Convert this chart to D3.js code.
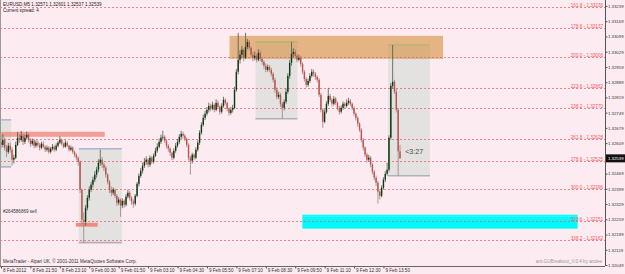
<!DOCTYPE html>
<html><head><meta charset="utf-8">
<script src="https://cdn.jsdelivr.net/npm/d3@7"></script>
<style>
html,body{margin:0;padding:0;background:#fcecf1;}
svg{display:block;font-family:"Liberation Sans",Arial,sans-serif;}
</style></head><body>
<svg id="c" width="625" height="274"></svg>
<script>
// ---------- DATA ----------
const symbol = "EURUSD,M5";
const spreadText = "Current spread: 4";
const open = [1.32615,
1.32601,1.32624,1.32588,1.32569,1.32597,1.32579,1.32533,1.32542,1.32601,1.32634,
1.32624,1.32643,1.32615,1.32634,1.32647,1.32624,1.32606,1.32620,1.32597,1.32611,
1.32601,1.32588,1.32606,1.32592,1.32579,1.32588,1.32569,1.32583,1.32592,1.32579,
1.32597,1.32611,1.32624,1.32606,1.32592,1.32611,1.32597,1.32579,1.32588,1.32569,
1.32556,1.32542,1.32523,1.32395,1.32257,1.32248,1.32312,1.32358,1.32395,1.32418,
1.32441,1.32464,1.32487,1.32519,1.32533,1.32510,1.32496,1.32464,1.32432,1.32395,
1.32381,1.32395,1.32367,1.32335,1.32349,1.32322,1.32344,1.32326,1.32363,1.32381,
1.32358,1.32340,1.32331,1.32367,1.32422,1.32459,1.32482,1.32505,1.32523,1.32533,
1.32510,1.32542,1.32523,1.32551,1.32574,1.32592,1.32615,1.32634,1.32638,1.32620,
1.32597,1.32583,1.32565,1.32542,1.32574,1.32597,1.32615,1.32638,1.32652,1.32643,
1.32629,1.32601,1.32542,1.32528,1.32556,1.32542,1.32579,1.32611,1.32657,1.32693,
1.32725,1.32744,1.32762,1.32780,1.32767,1.32785,1.32762,1.32794,1.32776,1.32753,
1.32780,1.32808,1.32794,1.32767,1.32748,1.32762,1.32771,1.32854,1.32937,1.32992,
1.33015,1.33038,1.33001,1.33051,1.33074,1.33047,1.33015,1.33001,1.33010,1.32992,
1.33024,1.32996,1.32982,1.32964,1.32946,1.32959,1.32946,1.32927,1.32900,1.32854,
1.32822,1.32831,1.32790,1.32771,1.32799,1.32845,1.32918,1.32978,1.33019,1.33028,
1.33010,1.32992,1.33001,1.32973,1.32937,1.32904,1.32877,1.32895,1.32918,1.32937,
1.32927,1.32913,1.32900,1.32831,1.32762,1.32707,1.32753,1.32790,1.32826,1.32808,
1.32790,1.32813,1.32794,1.32771,1.32753,1.32771,1.32790,1.32780,1.32794,1.32803,
1.32790,1.32771,1.32744,1.32725,1.32698,1.32670,1.32624,1.32588,1.32556,1.32533,
1.32542,1.32510,1.32477,1.32450,1.32427,1.32386,1.32367,1.32404,1.32441,1.32468,
1.32487,1.32634,1.32872,1.32891,1.32845,1.32762,1.32571];
const close = [
1.32601,1.32624,1.32588,1.32569,1.32597,1.32579,1.32533,1.32542,1.32601,1.32634,
1.32624,1.32643,1.32615,1.32634,1.32647,1.32624,1.32606,1.32620,1.32597,1.32611,
1.32601,1.32588,1.32606,1.32592,1.32579,1.32588,1.32569,1.32583,1.32592,1.32579,
1.32597,1.32611,1.32624,1.32606,1.32592,1.32611,1.32597,1.32579,1.32588,1.32569,
1.32556,1.32542,1.32523,1.32395,1.32257,1.32248,1.32312,1.32358,1.32395,1.32418,
1.32441,1.32464,1.32487,1.32519,1.32533,1.32510,1.32496,1.32464,1.32432,1.32395,
1.32381,1.32395,1.32367,1.32335,1.32349,1.32322,1.32344,1.32326,1.32363,1.32381,
1.32358,1.32340,1.32331,1.32367,1.32422,1.32459,1.32482,1.32505,1.32523,1.32533,
1.32510,1.32542,1.32523,1.32551,1.32574,1.32592,1.32615,1.32634,1.32638,1.32620,
1.32597,1.32583,1.32565,1.32542,1.32574,1.32597,1.32615,1.32638,1.32652,1.32643,
1.32629,1.32601,1.32542,1.32528,1.32556,1.32542,1.32579,1.32611,1.32657,1.32693,
1.32725,1.32744,1.32762,1.32780,1.32767,1.32785,1.32762,1.32794,1.32776,1.32753,
1.32780,1.32808,1.32794,1.32767,1.32748,1.32762,1.32771,1.32854,1.32937,1.32992,
1.33015,1.33038,1.33001,1.33051,1.33074,1.33047,1.33015,1.33001,1.33010,1.32992,
1.33024,1.32996,1.32982,1.32964,1.32946,1.32959,1.32946,1.32927,1.32900,1.32854,
1.32822,1.32831,1.32790,1.32771,1.32799,1.32845,1.32918,1.32978,1.33019,1.33028,
1.33010,1.32992,1.33001,1.32973,1.32937,1.32904,1.32877,1.32895,1.32918,1.32937,
1.32927,1.32913,1.32900,1.32831,1.32762,1.32707,1.32753,1.32790,1.32826,1.32808,
1.32790,1.32813,1.32794,1.32771,1.32753,1.32771,1.32790,1.32780,1.32794,1.32803,
1.32790,1.32771,1.32744,1.32725,1.32698,1.32670,1.32624,1.32588,1.32556,1.32533,
1.32542,1.32510,1.32477,1.32450,1.32427,1.32386,1.32367,1.32404,1.32441,1.32468,
1.32487,1.32634,1.32872,1.32891,1.32845,1.32762,1.32571,1.32539];
const high = [
1.32640,1.32650,1.32635,1.32600,1.32610,1.32612,1.32590,1.32556,1.32615,1.32660,
1.32650,1.32665,1.32652,1.32648,1.32662,1.32655,1.32632,1.32630,1.32628,1.32622,
1.32620,1.32610,1.32615,1.32618,1.32600,1.32598,1.32595,1.32592,1.32605,1.32600,
1.32608,1.32620,1.32640,1.32630,1.32612,1.32622,1.32618,1.32602,1.32598,1.32594,
1.32575,1.32562,1.32548,1.32530,1.32400,1.32290,1.32325,1.32370,1.32410,1.32432,
1.32455,1.32480,1.32500,1.32535,1.32579,1.32545,1.32520,1.32505,1.32470,1.32440,
1.32410,1.32405,1.32400,1.32375,1.32360,1.32355,1.32355,1.32350,1.32375,1.32395,
1.32390,1.32365,1.32350,1.32375,1.32430,1.32470,1.32495,1.32520,1.32540,1.32548,
1.32540,1.32552,1.32550,1.32562,1.32588,1.32608,1.32630,1.32648,1.32666,1.32645,
1.32628,1.32605,1.32590,1.32570,1.32585,1.32610,1.32628,1.32650,1.32665,1.32662,
1.32650,1.32635,1.32608,1.32550,1.32565,1.32562,1.32590,1.32622,1.32668,1.32705,
1.32740,1.32758,1.32775,1.32795,1.32790,1.32800,1.32792,1.32810,1.32805,1.32782,
1.32792,1.32822,1.32815,1.32800,1.32772,1.32775,1.32785,1.32868,1.32950,1.33116,
1.33035,1.33055,1.33047,1.33116,1.33088,1.33083,1.33055,1.33028,1.33030,1.33020,
1.33040,1.33033,1.33005,1.32990,1.32975,1.32970,1.32968,1.32955,1.32935,1.32910,
1.32865,1.32845,1.32840,1.32798,1.32810,1.32860,1.32930,1.32992,1.33074,1.33045,
1.33040,1.33020,1.33015,1.33010,1.32980,1.32945,1.32912,1.32905,1.32930,1.32950,
1.32948,1.32935,1.32920,1.32908,1.32840,1.32770,1.32765,1.32802,1.32863,1.32835,
1.32815,1.32825,1.32820,1.32800,1.32780,1.32782,1.32800,1.32798,1.32810,1.32817,
1.32812,1.32795,1.32778,1.32750,1.32732,1.32705,1.32678,1.32632,1.32595,1.32565,
1.32555,1.32550,1.32518,1.32485,1.32460,1.32435,1.32395,1.32415,1.32452,1.32480,
1.32519,1.32645,1.32885,1.33060,1.32900,1.32858,1.32770,1.32601];
const low = [
1.32585,1.32590,1.32575,1.32545,1.32560,1.32565,1.32505,1.32515,1.32535,1.32595,
1.32610,1.32615,1.32600,1.32605,1.32625,1.32612,1.32592,1.32598,1.32585,1.32588,
1.32590,1.32575,1.32580,1.32585,1.32568,1.32570,1.32560,1.32562,1.32575,1.32570,
1.32572,1.32590,1.32605,1.32598,1.32585,1.32588,1.32590,1.32570,1.32572,1.32560,
1.32545,1.32530,1.32505,1.32380,1.32235,1.32152,1.32230,1.32300,1.32345,1.32385,
1.32405,1.32430,1.32450,1.32475,1.32505,1.32495,1.32480,1.32450,1.32420,1.32380,
1.32365,1.32370,1.32355,1.32320,1.32325,1.32271,1.32310,1.32312,1.32318,1.32355,
1.32345,1.32325,1.32312,1.32322,1.32360,1.32410,1.32450,1.32470,1.32495,1.32510,
1.32498,1.32500,1.32512,1.32515,1.32545,1.32565,1.32585,1.32605,1.32622,1.32610,
1.32585,1.32570,1.32550,1.32530,1.32535,1.32565,1.32588,1.32605,1.32628,1.32630,
1.32618,1.32590,1.32530,1.32464,1.32515,1.32530,1.32535,1.32570,1.32600,1.32648,
1.32685,1.32715,1.32735,1.32750,1.32755,1.32760,1.32750,1.32755,1.32765,1.32740,
1.32745,1.32772,1.32785,1.32755,1.32735,1.32740,1.32750,1.32765,1.32845,1.32925,
1.32975,1.33000,1.32985,1.32995,1.33040,1.33035,1.33005,1.32985,1.32990,1.32980,
1.32985,1.32985,1.32970,1.32950,1.32935,1.32938,1.32935,1.32915,1.32888,1.32840,
1.32810,1.32812,1.32775,1.32721,1.32760,1.32790,1.32835,1.32905,1.32965,1.33005,
1.32998,1.32980,1.32985,1.32960,1.32925,1.32892,1.32865,1.32868,1.32885,1.32910,
1.32915,1.32900,1.32888,1.32820,1.32750,1.32679,1.32700,1.32745,1.32780,1.32798,
1.32778,1.32782,1.32785,1.32760,1.32740,1.32745,1.32762,1.32770,1.32772,1.32785,
1.32780,1.32760,1.32735,1.32712,1.32685,1.32660,1.32612,1.32575,1.32545,1.32520,
1.32525,1.32498,1.32465,1.32438,1.32412,1.32331,1.32350,1.32360,1.32395,1.32430,
1.32460,1.32478,1.32625,1.32860,1.32835,1.32750,1.32459,1.32537];

const priceTicks = [1.32049,1.32119,1.32189,1.32259,1.32329,1.32399,1.32469,1.32539,1.32609,
  1.32679,1.32749,1.32819,1.32889,1.32959,1.33029,1.33099,1.33169,1.33239];
const timeTickBars = [0,16,32,48,64,80,96,112,128,144,160,176,192,208];
const timeTickLabels = ["8 Feb 2012","8 Feb 21:50","8 Feb 23:10","9 Feb 00:30","9 Feb 01:50",
  "9 Feb 03:10","9 Feb 04:30","9 Feb 05:50","9 Feb 07:10","9 Feb 08:30","9 Feb 09:50",
  "9 Feb 11:10","9 Feb 12:30","9 Feb 13:50"];

const fibPct = ["161.8","178.6","200.0","223.6","238.2","261.8","278.6","300.0","323.6","338.2"];
const fibPrice = [1.33236,1.33137,1.33006,1.32862,1.32770,1.32628,1.32525,1.32396,1.32251,1.32162];

// range boxes (bar index from/to, price high/low)
const boxFrom = [-6, 42.3, 138.4, 210.5];
const boxTo   = [5.5, 65.7, 161.2, 233.3];
const boxHigh = [1.32716, 1.32583, 1.33074, 1.33060];
const boxLow  = [1.32500, 1.32152, 1.32721, 1.32459];
const boxTopColor = ["#b4b8c4","#a8b4d0","#86f0c4","#86f0c4"];

// zones
const zoneFrom  = [124.3, -1, 40.7, 163.9];
const zoneTo    = [240.4, 56.4, 52.6, 313.6];
const zoneHigh  = [1.33102, 1.32661, 1.32243, 1.32280];
const zoneLow   = [1.32996, 1.32638, 1.32225, 1.32216];
const zoneColor = ["rgba(214,146,66,0.62)","rgba(240,128,112,0.72)","rgba(240,118,104,0.8)","#00fafa"];

const orderLabel = "#264586869 sell";
const orderPrice = 1.32283;
const timerText = "<3:27";
const copyright = "MetaTrader - Alpari UK, \u00a9 2001-2011 MetaQuotes Software Corp.";
const indicatorName = "ant-GUBreakout_V.0.4 by andee";

// ---------- DRAW ----------
const svg = d3.select("#c");
const PW = 605, PH = 266;
const x = d3.scaleLinear().domain([0, 217]).range([1, 400]);
const y = d3.scaleLinear().domain([1.32049, 1.33239]).range([265, 6]);
const FS = 4.6, AFS = 4.3;

svg.append("rect").attr("width",625).attr("height",274).attr("fill","#fcecf1");
svg.append("defs").append("clipPath").attr("id","plot")
  .append("rect").attr("x",0).attr("y",0).attr("width",PW).attr("height",PH);
const g = svg.append("g").attr("clip-path","url(#plot)");

// grey range boxes
boxFrom.forEach((f,i)=>{
  const x0=x(f), x1=x(boxTo[i]), y0=y(boxHigh[i]), y1=y(boxLow[i]);
  g.append("rect").attr("x",x0).attr("y",y0).attr("width",x1-x0).attr("height",y1-y0)
    .attr("fill","#dfe0dd").attr("opacity",0.88);
  g.append("line").attr("x1",x0).attr("x2",x1).attr("y1",y0).attr("y2",y0)
    .attr("stroke",boxTopColor[i]).attr("stroke-width",1.6);
  g.append("line").attr("x1",x0).attr("x2",x1).attr("y1",y1).attr("y2",y1)
    .attr("stroke","#b0b2ba").attr("stroke-width",1.6);
});

// zones
zoneFrom.forEach((f,i)=>{
  g.append("rect").attr("x",x(f)).attr("y",y(zoneHigh[i]))
    .attr("width",x(zoneTo[i])-x(f)).attr("height",y(zoneLow[i])-y(zoneHigh[i]))
    .attr("fill",zoneColor[i]);
});
g.append("line").attr("x1",x(zoneFrom[3])).attr("x2",x(zoneTo[3]))
  .attr("y1",y(zoneHigh[3])+1.5).attr("y2",y(zoneHigh[3])+1.5)
  .attr("stroke","#8ff").attr("stroke-dasharray","1,1").attr("stroke-width",0.8);

// fib levels
fibPrice.forEach((p,i)=>{
  const yy = Math.round(y(p))+0.5;
  g.append("line").attr("x1",0).attr("x2",PW).attr("y1",yy).attr("y2",yy)
    .attr("stroke","#ec6470").attr("stroke-width",0.8).attr("stroke-dasharray","2,2");
  svg.append("text").attr("x",PW-2).attr("y",yy-1).attr("text-anchor","end")
    .attr("font-size",FS).attr("fill","#f05a5a").text(fibPct[i]+" - "+p.toFixed(5));
});

// candles
const idx = d3.range(close.length);
g.selectAll("line.wick").data(idx).join("line").attr("class","wick")
  .attr("x1",i=>x(i)).attr("x2",i=>x(i))
  .attr("y1",i=>y(high[i])).attr("y2",i=>y(low[i]))
  .attr("stroke",i=>close[i]>=open[i]?"#4a5a4a":"#9a8080").attr("stroke-width",0.8);
g.selectAll("rect.body").data(idx).join("rect").attr("class","body")
  .attr("x",i=>x(i)-0.7).attr("width",1.4)
  .attr("y",i=>y(Math.max(open[i],close[i])))
  .attr("height",i=>Math.max(0.8, Math.abs(y(open[i])-y(close[i]))))
  .attr("fill",i=>close[i]>=open[i]?"#0c3a12":"#c0504a");

// texts on chart
svg.append("text").attr("x",3).attr("y",6).attr("font-size",FS).attr("fill","#222")
  .text(symbol+"  "+[open[217],high[217],low[217],close[217]].map(v=>v.toFixed(5)).join(" "));
svg.append("text").attr("x",3).attr("y",11.5).attr("font-size",FS).attr("fill","#222").text(spreadText);
svg.append("text").attr("x",3).attr("y",y(orderPrice)-1).attr("font-size",FS).attr("fill","#333").text(orderLabel);
svg.append("text").attr("x",x(216)+7).attr("y",y(close[217])-4).attr("font-size",7.2).attr("fill","#4a4a4a").text(timerText);
svg.append("text").attr("x",3).attr("y",263).attr("font-size",FS).attr("fill","#333").text(copyright);
svg.append("text").attr("x",PW-3).attr("y",263).attr("text-anchor","end").attr("font-size",FS).attr("fill","#9a9a9a").text(indicatorName);

// price axis
const ya = svg.append("g").attr("transform",`translate(${PW+0.5},0)`)
  .call(d3.axisRight(y).tickValues(priceTicks).tickFormat(d3.format(".5f")).tickSize(2).tickSizeOuter(0));
ya.select(".domain").attr("stroke","#555").attr("d",`M0,0V${PH}`);
ya.selectAll(".tick line").attr("stroke","#555");
ya.selectAll(".tick text").attr("x",2.5).attr("font-size",AFS).attr("fill","#333")
  .attr("font-family","Liberation Sans, Arial, sans-serif");

// current price marker
const cy = y(close[217]);
svg.append("rect").attr("x",PW+1).attr("y",cy-4).attr("width",625-PW-1).attr("height",8).attr("fill","#111");
svg.append("text").attr("x",PW+3).attr("y",cy+1.6).attr("font-size",AFS).attr("fill","#fff").text(close[217].toFixed(5));

// time axis
const xa = svg.append("g").attr("transform",`translate(0,${PH+0.5})`)
  .call(d3.axisBottom(x).tickValues(timeTickBars).tickFormat((d,i)=>timeTickLabels[i]).tickSize(2).tickSizeOuter(0));
xa.select(".domain").attr("stroke","#666").attr("d",`M0,0H${PW}`);
xa.selectAll(".tick line").attr("stroke","#555");
xa.selectAll(".tick text").attr("text-anchor","start").attr("x",1.5).attr("y",2.5).attr("dy","0.71em")
  .attr("font-size",FS).attr("fill","#333").attr("font-family","Liberation Sans, Arial, sans-serif");

// left frame line
svg.append("line").attr("x1",0.5).attr("x2",0.5).attr("y1",0).attr("y2",PH).attr("stroke","#999").attr("stroke-width",1);
</script>
</body></html>
